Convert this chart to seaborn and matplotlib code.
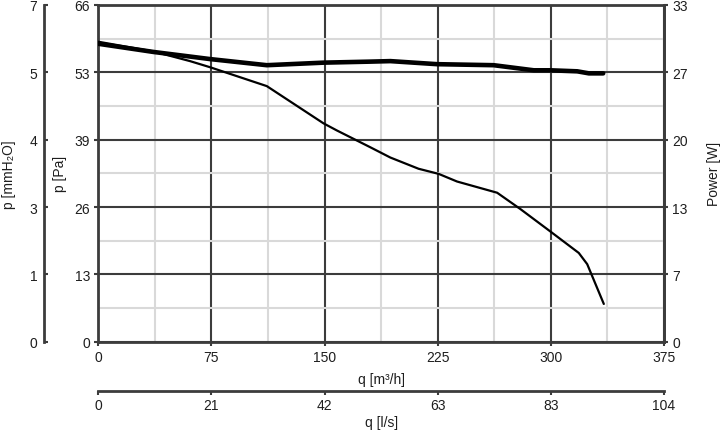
import matplotlib
matplotlib.use("Agg")  # no display
import matplotlib.pyplot as plt
import seaborn as sns

# ── data ──────────────────────────────────────────────────────────────────
q_pressure = [0, 36.5, 60.8, 74.1, 111.7, 149.3, 158.2, 180.4, 193.6, 212.3,
              225.6, 237.8, 264.4, 279.8, 299.7, 318.5, 324.1, 335.1]
p_pa = [58.8, 56.9, 55.0, 53.8, 50.1, 42.8, 41.4, 38.1, 36.1, 33.9,
        32.9, 31.4, 29.2, 26.0, 21.6, 17.4, 15.2, 7.4]

q_power = [0, 36.5, 74.1, 111.7, 149.3, 180.3, 193.6, 224.6, 262.1,
           288.7, 299.7, 317.5, 325.2, 334.7]
power_w = [29.2, 28.4, 27.7, 27.1, 27.35, 27.45, 27.5, 27.2, 27.1,
           26.6, 26.6, 26.5, 26.3, 26.3]

q_ticks = [0, 75, 150, 225, 300, 375]
ls_labels = ["0", "21", "42", "63", "83", "104"]
pa_labels = ["0", "13", "26", "39", "53", "66"]
mm_labels = ["0", "1", "3", "4", "5", "7"]
w_labels = ["0", "7", "13", "20", "27", "33"]

Q_MAX, PA_MAX, W_MAX = 375, 66, 33
LS_MAX = Q_MAX / 3.6
MM_MAX = PA_MAX / 9.80665

DARK = "#3c3c3c"
LIGHT = "#d9d9d9"
TXT = "#1e1e1e"

sns.set_style("white")
plt.rcParams["font.family"] = ["Liberation Sans", "DejaVu Sans"]
plt.rcParams["font.size"] = 10
plt.rcParams["text.color"] = TXT
plt.rcParams["axes.labelcolor"] = TXT
plt.rcParams["xtick.color"] = DARK
plt.rcParams["ytick.color"] = DARK
plt.rcParams["xtick.labelcolor"] = TXT
plt.rcParams["ytick.labelcolor"] = TXT


def even_ticks(top, n=6):
    return [top * i / (n - 1) for i in range(n)]


W, H = 720, 435
fig = plt.figure(figsize=(W / 100, H / 100), dpi=100)
x0, x1, y0, y1 = 98.3, 664.0, 6.0, 342.7
ax = fig.add_axes([x0 / W, 1 - y1 / H, (x1 - x0) / W, (y1 - y0) / H])

# main axis: q [m3/h] vs p [Pa]
ax.set_xlim(0, Q_MAX)
ax.set_ylim(0, PA_MAX)
ax.set_xticks(q_ticks)
ax.set_xticks([q + Q_MAX / 10 for q in q_ticks[:-1]], minor=True)
ax.set_yticks(even_ticks(PA_MAX))
ax.set_yticklabels(pa_labels)
ax.set_yticks([v + PA_MAX / 10 for v in even_ticks(PA_MAX)[:-1]], minor=True)
ax.grid(which="major", color=DARK, lw=1.5)
ax.grid(which="minor", color=LIGHT, lw=1.5)
ax.set_axisbelow(True)
ax.tick_params(which="major", direction="out", length=3, width=1.5, pad=3)
ax.tick_params(which="minor", length=0)
for s in ax.spines.values():
    s.set_color(DARK)
    s.set_linewidth(2)

sns.lineplot(x=q_pressure, y=p_pa, ax=ax, color="black", lw=1.6,
             estimator=None, zorder=3)
ax.set_xlabel("q [m³/h]", labelpad=6)
ax.set_ylabel("p [Pa]", labelpad=5)

# power on the right
ax_w = ax.twinx()
ax_w.set_ylim(0, W_MAX)
ax_w.set_yticks(even_ticks(W_MAX))
ax_w.set_yticklabels(w_labels)
ax_w.tick_params(direction="out", length=3, width=1.5, pad=3)
for name, s in ax_w.spines.items():
    s.set_visible(name == "right")
    s.set_color(DARK)
    s.set_linewidth(2)
sns.lineplot(x=q_power, y=power_w, ax=ax_w, color="black", lw=3.3,
             estimator=None)
ax_w.set_ylabel("Power [W]", labelpad=14)

# outer left axis: p [mmH2O]
ax_mm = ax.twinx()
ax_mm.set_ylim(0, MM_MAX)
ax_mm.set_yticks(even_ticks(MM_MAX))
ax_mm.set_yticklabels(mm_labels)
ax_mm.yaxis.set_ticks_position("left")
ax_mm.yaxis.set_label_position("left")
ax_mm.spines["left"].set_position(("outward", 54 * 0.72))
for name, s in ax_mm.spines.items():
    s.set_visible(name == "left")
    s.set_color(DARK)
    s.set_linewidth(2)
ax_mm.tick_params(axis="y", direction="in", length=3, width=1.5, pad=5,
                  left=True, right=False, labelleft=True, labelright=False)
ax_mm.set_ylabel("p [mmH₂O]", labelpad=10)

# second x axis: q [l/s]
ax_ls = ax.twiny()
ax_ls.set_xlim(0, LS_MAX)
ax_ls.set_xticks(even_ticks(LS_MAX))
ax_ls.set_xticklabels(ls_labels)
ax_ls.xaxis.set_ticks_position("bottom")
ax_ls.xaxis.set_label_position("bottom")
ax_ls.spines["bottom"].set_position(("outward", 49.8 * 0.72))
for name, s in ax_ls.spines.items():
    s.set_visible(name == "bottom")
    s.set_color(DARK)
    s.set_linewidth(2)
ax_ls.tick_params(axis="x", direction="out", length=3, width=1.5, pad=2,
                  bottom=True, top=False, labelbottom=True, labeltop=False)
ax_ls.set_xlabel("q [l/s]", labelpad=2)

fig.savefig("out.png", dpi=100)
plt.close(fig)
